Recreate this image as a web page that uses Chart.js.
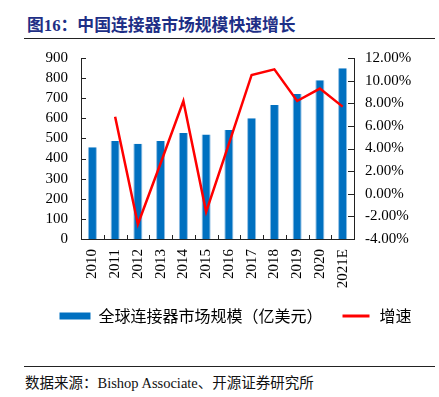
<!DOCTYPE html>
<html>
<head>
<meta charset="utf-8">
<script src="https://cdn.jsdelivr.net/npm/chart.js@4/dist/chart.umd.min.js"></script>
<style>
  body { margin: 0; background: #fff; width: 439px; height: 397px; position: relative; overflow: hidden; }
  #title { position: absolute; left: 27px; top: 12px; font: bold 16.8px "Liberation Serif", "Noto Sans CJK SC"; color: #1e2f86; white-space: nowrap; }
  .rule { position: absolute; left: 24px; width: 411px; height: 1px; background: #222; }
  #source { position: absolute; left: 25px; top: 371px; font: 14.5px "Liberation Serif", "Noto Sans CJK SC"; color: #111; white-space: nowrap; }
  #wrap { position: absolute; left: 0; top: 0; width: 439px; height: 345px; }
</style>
</head>
<body>
<div id="title">图16：中国连接器市场规模快速增长</div>
<div class="rule" style="top:38px"></div>
<div id="wrap"><canvas id="chart"></canvas></div>
<div class="rule" style="top:366px"></div>
<div id="source">数据来源：Bishop Associate、开源证券研究所</div>
<script>
const years = ['2010', '2011', '2012', '2013', '2014', '2015', '2016', '2017', '2018', '2019', '2020', '2021E'];
const marketSize = [456, 487, 474, 487, 527, 519, 542, 600, 666, 721, 789, 849];
const growth = [null, 6.8, -2.7, 2.7, 8.2, -1.6, 4.4, 10.5, 11.0, 8.2, 9.3, 7.7];
const leftTicks = [0, 100, 200, 300, 400, 500, 600, 700, 800, 900];
const rightTicks = [-4, -2, 0, 2, 4, 6, 8, 10, 12];

// small tick marks pointing into the plot, like the original
const innerTicks = {
    id: 'innerTicks',
    afterDraw(chart) {
        const { ctx, chartArea, scales } = chart;
        ctx.save();
        ctx.strokeStyle = '#222';
        ctx.lineWidth = 1;
        ctx.beginPath();
        scales.y.ticks.forEach((t, i) => {
            const py = Math.round(scales.y.getPixelForTick(i)) + 0.5;
            ctx.moveTo(chartArea.left, py);
            ctx.lineTo(chartArea.left + 5, py);
        });
        scales.y1.ticks.forEach((t, i) => {
            const py = Math.round(scales.y1.getPixelForTick(i)) + 0.5;
            ctx.moveTo(chartArea.right, py);
            ctx.lineTo(chartArea.right - 6, py);
        });
        for (let i = 0; i <= years.length; i++) {
            const px = Math.round(scales.x.getPixelForValue(i - 0.5)) + 0.5;
            ctx.moveTo(px, chartArea.bottom);
            ctx.lineTo(px, chartArea.bottom - 4);
        }
        ctx.stroke();
        ctx.restore();
    }
};

// legend in the original sits a bit right of centre
const legendShift = {
    id: 'legendShift',
    afterLayout(chart) {
        chart.legend.left += 16;
        chart.legend.right += 16;
    }
};

const serif = { family: 'Liberation Serif', size: 15 };

new Chart(document.getElementById('chart'), {
    data: {
        labels: years,
        datasets: [{
            type: 'bar',
            label: '全球连接器市场规模（亿美元）',
            data: marketSize,
            backgroundColor: '#0070c0',
            borderColor: '#8fbde3',
            borderWidth: { left: 1, right: 1, top: 0, bottom: 0 },
            barPercentage: 0.4,
            categoryPercentage: 1,
            yAxisID: 'y',
            order: 2
        }, {
            type: 'line',
            label: '增速',
            data: growth,
            borderColor: '#ff0000',
            backgroundColor: '#ff0000',
            borderWidth: 2.5,
            pointRadius: 0,
            tension: 0,
            spanGaps: false,
            yAxisID: 'y1',
            order: 1
        }]
    },
    plugins: [innerTicks, legendShift],
    options: {
        responsive: true,
        maintainAspectRatio: false,
        animation: false,
        layout: { padding: { top: 58, left: 0, right: 0, bottom: 11 } },
        plugins: {
            tooltip: { enabled: false },
            legend: {
                position: 'bottom',
                labels: {
                    color: '#000',
                    font: { family: 'Noto Sans CJK SC', size: 16 },
                    boxWidth: 31,
                    boxHeight: 7,
                    padding: 18,
                    generateLabels(chart) {
                        return chart.data.datasets.map((ds, i) => ({
                            text: ds.label,
                            datasetIndex: i,
                            fillStyle: ds.type === 'line' ? '#ff0000' : '#0070c0',
                            strokeStyle: ds.type === 'line' ? '#ffffff' : '#0070c0',
                            lineWidth: ds.type === 'line' ? 4 : 0,
                            fontColor: '#000'
                        }));
                    }
                }
            }
        },
        scales: {
            x: {
                offset: true,
                grid: { display: false, drawTicks: false },
                border: { display: true, color: '#222', width: 1 },
                ticks: { color: '#000', font: serif, minRotation: 90, maxRotation: 90, padding: 10, autoSkip: false },
                afterFit(scale) { scale.height = 51; }
            },
            y: {
                position: 'left',
                min: 0,
                max: 900,
                afterBuildTicks(scale) { scale.ticks = leftTicks.map(v => ({ value: v })); },
                grid: { display: false, drawTicks: false },
                border: { display: true, color: '#222', width: 1 },
                ticks: { color: '#000', font: serif, padding: 13, autoSkip: false },
                afterFit(scale) { scale.width = 81; }
            },
            y1: {
                position: 'right',
                min: -4,
                max: 12,
                afterBuildTicks(scale) { scale.ticks = rightTicks.map(v => ({ value: v })); },
                grid: { display: false, drawTicks: false },
                border: { display: true, color: '#222', width: 1 },
                ticks: { color: '#000', font: serif, padding: 11, autoSkip: false, callback: v => v.toFixed(2) + '%' },
                afterFit(scale) { scale.width = 85; }
            }
        }
    }
});
</script>
</body>
</html>
